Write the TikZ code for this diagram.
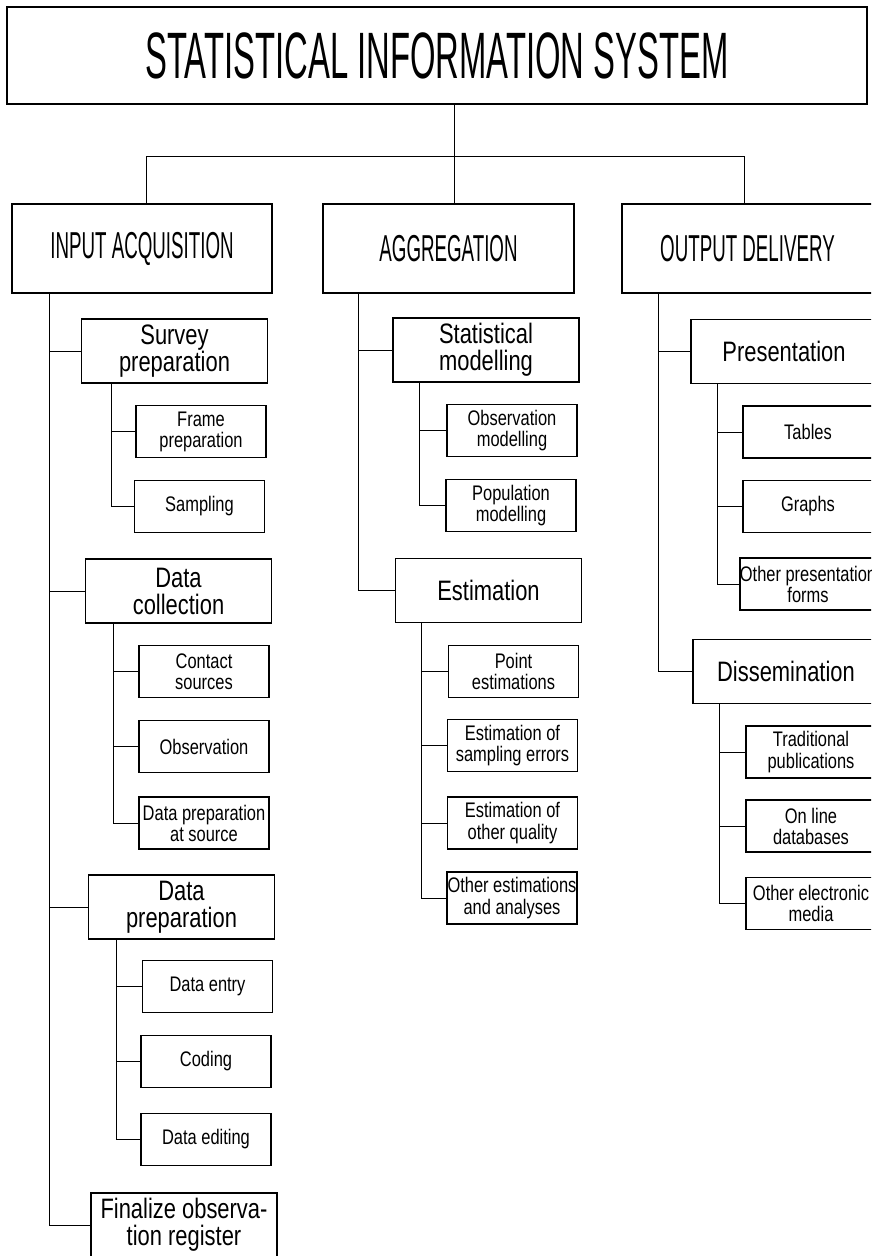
\documentclass[tikz,border=0pt]{standalone}
\usepackage{fontspec}
\setmainfont{Liberation Sans}
% narrow plotter-like lettering
\newfontfamily\capsfont[FakeStretch=0.5]{Liberation Sans}
\newfontfamily\plotfont[FakeStretch=0.78]{Liberation Sans}

\begin{document}
\begin{tikzpicture}[x=0.3mm,y=-0.3mm,
  box/.style={draw, line width=1.1pt, inner sep=0pt, outer sep=0pt, align=center},
  titlebox/.style={box, minimum width=258mm, minimum height=29.1mm,
    font=\capsfont\fontsize{56}{60}\selectfont},
  headbox/.style={box, minimum height=26.7mm,
    font=\capsfont\fontsize{32}{36}\selectfont},
  midbox/.style={box, minimum width=55.8mm, minimum height=19.2mm,
    font=\plotfont\fontsize{24}{23}\selectfont},
  leafbox/.style={box, minimum width=39mm, minimum height=15.6mm,
    font=\plotfont\fontsize{18}{18}\selectfont},
  link/.style={line width=0.8pt}
]
\useasboundingbox (0,0) rectangle (871,1256);
\fill[white] (0,0) rectangle (871,1256);
\clip (0,0) rectangle (871,1256);

% top of the tree
\node[titlebox] (sis) at (437,55.5) {STATISTICAL INFORMATION SYSTEM};

\node[headbox, minimum width=78mm]   (inp) at (142,248.5)   {INPUT ACQUISITION};
\node[headbox, minimum width=75.3mm] (agg) at (448.5,248.5) {AGGREGATION};
\node[headbox, minimum width=75.3mm] (out) at (747.5,248.5) {OUTPUT DELIVERY};

% input acquisition branch
\node[midbox]  (sp)  at (174.5,351)  {Survey\\preparation};
\node[leafbox] (fp)  at (201,431.5)  {Frame\\preparation};
\node[leafbox] (sa)  at (199.5,506.5) {Sampling};
\node[midbox]  (dc)  at (178.5,591)  {Data\\collection};
\node[leafbox] (cs)  at (204,671.5)  {Contact\\sources};
\node[leafbox] (ob)  at (204,746.5)  {Observation};
\node[leafbox] (dps) at (204,823)    {Data preparation\\at source};
\node[midbox]  (dp)  at (181.5,907)  {Data\\preparation};
\node[leafbox] (de)  at (207.5,986.5) {Data entry};
\node[leafbox] (co)  at (206,1061.5) {Coding};
\node[leafbox] (ed)  at (206,1139.5) {Data editing};
\node[midbox]  (fin) at (184,1225)   {Finalize observa-\\tion register};

% aggregation branch
\node[midbox]  (sm)  at (486,350)    {Statistical\\modelling};
\node[leafbox] (om)  at (512,430.5)  {Observation\\modelling};
\node[leafbox] (pm)  at (511,505.5)  {Population\\modelling};
\node[midbox]  (es)  at (488.5,590.5) {Estimation};
\node[leafbox] (pe)  at (513.5,671.5) {Point\\estimations};
\node[leafbox] (ese) at (512.5,745.5) {Estimation of\\sampling errors};
\node[leafbox] (eoq) at (512.5,823)  {Estimation of\\other quality};
\node[leafbox] (oea) at (512,898)    {Other estimations\\and analyses};

% output delivery branch
\node[midbox]  (pr)  at (784,351.5)  {Presentation};
\node[leafbox] (ta)  at (808,432)    {Tables};
\node[leafbox] (gr)  at (808,506.5)  {Graphs};
\node[leafbox] (opf) at (808,584)    {Other presentation\\forms};
\node[midbox]  (di)  at (786,671.5)  {Dissemination};
\node[leafbox] (tp)  at (811,752)    {Traditional\\publications};
\node[leafbox] (old) at (811,826)    {On line\\databases};
\node[leafbox] (oem) at (811,903.5)  {Other electronic\\media};

% bus under the title
\coordinate (jin)  at (146,156);
\coordinate (jagg) at (454,156);
\coordinate (jout) at (744,156);
\draw[link] (sis.south -| jagg) -- (jagg);
\draw[link] (jin) -- (jout);
\draw[link] (jin)  -- (jin  |- inp.north);
\draw[link] (jagg) -- (jagg |- agg.north);
\draw[link] (jout) -- (jout |- out.north);

% x positions of the vertical stems
\coordinate (sIn)  at (49,0);
\coordinate (sAgg) at (358,0);
\coordinate (sOut) at (658,0);
\coordinate (sSp)  at (111,0);
\coordinate (sDc)  at (113,0);
\coordinate (sDp)  at (116,0);
\coordinate (sSm)  at (419,0);
\coordinate (sEs)  at (421,0);
\coordinate (sPr)  at (717,0);
\coordinate (sDi)  at (719,0);

% first-level stems
\draw[link] (inp.south -| sIn) |- (fin.west);
\foreach \n in {sp,dc,dp} \draw[link] (\n.west) -- (\n.west -| sIn);
\draw[link] (agg.south -| sAgg) |- (es.west);
\draw[link] (sm.west) -- (sm.west -| sAgg);
\draw[link] (out.south -| sOut) |- (di.west);
\draw[link] (pr.west) -- (pr.west -| sOut);

% second-level stems
\draw[link] (sp.south -| sSp) |- (sa.west);
\draw[link] (fp.west) -- (fp.west -| sSp);
\draw[link] (dc.south -| sDc) |- (dps.west);
\foreach \n in {cs,ob} \draw[link] (\n.west) -- (\n.west -| sDc);
\draw[link] (dp.south -| sDp) |- (ed.west);
\foreach \n in {de,co} \draw[link] (\n.west) -- (\n.west -| sDp);
\draw[link] (sm.south -| sSm) |- (pm.west);
\draw[link] (om.west) -- (om.west -| sSm);
\draw[link] (es.south -| sEs) |- (oea.west);
\foreach \n in {pe,ese,eoq} \draw[link] (\n.west) -- (\n.west -| sEs);
\draw[link] (pr.south -| sPr) |- (opf.west);
\foreach \n in {ta,gr} \draw[link] (\n.west) -- (\n.west -| sPr);
\draw[link] (di.south -| sDi) |- (oem.west);
\foreach \n in {tp,old} \draw[link] (\n.west) -- (\n.west -| sDi);
\end{tikzpicture}
\end{document}
